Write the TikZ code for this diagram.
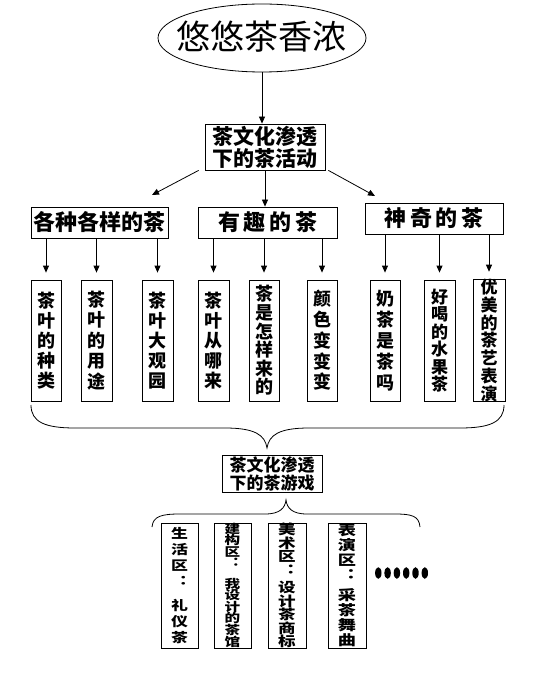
\documentclass[tikz,border=0pt]{standalone}
\usepackage{fontspec}
\newfontfamily\cjk{Noto Sans CJK SC}
\newfontfamily\cjkw{Noto Sans CJK SC}[FakeStretch=1.3]
\usetikzlibrary{shapes.geometric,arrows.meta}
\tikzset{
  box/.style={draw, line width=0.8pt, inner sep=0pt, align=center, font=\cjk\bfseries},
  arr/.style={line width=0.8pt, -{Triangle[length=7pt,width=6pt]}},
  vbox/.style={box, minimum width=31pt, minimum height=121pt, font=\cjk\bfseries\fontsize{18}{20}\selectfont},
  catbox/.style={box, minimum width=138pt, minimum height=31pt, font=\cjk\bfseries\fontsize{22}{24}\selectfont},
  gbox/.style={box, minimum width=37pt, minimum height=125pt},
  brace/.style={line width=0.8pt},
}
\begin{document}
\begin{tikzpicture}[x=1pt,y=-1pt]
\useasboundingbox[fill=white] (0,0) rectangle (542,676);
% title
\node[ellipse, draw, line width=0.8pt, minimum width=208pt, minimum height=68pt, inner sep=0pt] (title) at (262,38) {};
\node[inner sep=0pt, font=\cjk\fontsize{34}{36}\selectfont] (titletext) at (261,37) {悠悠茶香浓};
% activity box
\node[box, minimum width=120pt, minimum height=46pt, font=\cjk\bfseries\fontsize{21}{22}\selectfont] (act) at (265,147) {茶文化渗透\\下的茶活动};
\draw[arr] (title.south) -- (title.south |- act.north);
% categories
\node[catbox, minimum width=137pt] (catA) at (99.5,222.5) {各种各样的茶};
\node[catbox, minimum width=139pt] (catB) at (267.5,222.5) {有\,趣\,的\,茶};
\node[catbox] (catC) at (434,218.5) {神\,奇\,的\,茶};
\coordinate (tA) at (152,195);
\coordinate (tC) at (375,196);
\draw[arr] ([xshift=-6pt]act.south west) -- (tA);
\draw[arr] (act.south) -- (act.south |- catB.north);
\draw[arr] ([xshift=3pt]act.south east) -- (tC);
% vertical boxes
\node[vbox, minimum width=30pt] (v1) at (46,340.5) {茶\\叶\\的\\种\\类};
\node[vbox] (v2) at (96.5,340.5) {\raisebox{4pt}{\parbox{18pt}{\centering\fontsize{18}{20.5}\selectfont 茶\\叶\\的\\用\\途}}};
\node[vbox] (v3) at (157.5,340.5) {茶\\叶\\大\\观\\园};
\node[vbox] (v4) at (213.5,340.5) {茶\\叶\\从\\哪\\来};
\node[vbox, minimum width=30pt, font=\cjk\bfseries\fontsize{18}{18.6}\selectfont] (v5) at (264,340.5) {茶\\是\\怎\\样\\来\\的};
\node[vbox, minimum width=30pt, font=\cjk\bfseries\fontsize{18}{20.7}\selectfont] (v6) at (322,340.5) {颜\\色\\变\\变\\变};
\node[vbox, minimum width=30pt, font=\cjk\bfseries\fontsize{18}{21}\selectfont] (v7) at (385,340.5) {奶\\茶\\是\\茶\\吗};
\node[vbox, font=\cjk\bfseries\fontsize{17}{17.5}\selectfont] (v8) at (439.5,340.5) {好\\喝\\的\\水\\果\\茶};
\node[vbox, minimum width=32pt, font=\cjk\bfseries\fontsize{17}{17.8}\selectfont] (v9) at (489,340.5) {优\\美\\的\\茶\\艺\\表\\演};
\foreach \c/\v in {catA/v1,catA/v2,catA/v3,catB/v4,catB/v5,catB/v6,catC/v7,catC/v8,catC/v9}
  \draw[arr] (\v.north |- \c.south) -- ([yshift=7pt]\v.north);
% top brace
\draw[brace] (31,405) .. controls (31,422) and (45,428) .. (75,428) -- (225,428)
  .. controls (255,428) and (265,435) .. (267,448)
  .. controls (269,435) and (279,428) .. (309,428) -- (460,428)
  .. controls (490,428) and (504,422) .. (504,405);
% game box
\node[box, minimum width=100pt, minimum height=37pt, font=\cjk\bfseries\fontsize{17}{18}\selectfont] (game) at (272,473.5) {茶文化渗透\\下的茶游戏};
% bottom brace
\draw[brace] (152,527) .. controls (153,516) and (162,514) .. (180,514) -- (265,514)
  .. controls (280,514) and (285,508) .. (286,500)
  .. controls (287,508) and (292,514) .. (307,514) -- (395,514)
  .. controls (412,514) and (419,516) .. (420,527);
% bottom boxes
\node[gbox, font=\cjkw\bfseries\fontsize{13}{16}\selectfont] (b1) at (179.5,585.5) {生\\活\\区\\︓\\[8pt]礼\\仪\\茶};
\node[gbox, font=\cjkw\bfseries\fontsize{12}{11.5}\selectfont] (b2) at (232.5,585.5) {建\\构\\区\\︓\\[9pt]我\\设\\计\\的\\茶\\馆};
\node[gbox, minimum width=38pt, font=\cjkw\bfseries\fontsize{13.5}{13.5}\selectfont] (b3) at (287,585.5) {美\\术\\区\\︓\\[4pt]设\\计\\茶\\商\\标};
\node[gbox, minimum width=38pt, font=\cjkw\bfseries\fontsize{14}{15}\selectfont] (b4) at (347,585.5) {表\\演\\区\\︓\\[5pt]采\\茶\\舞\\曲};
% dots
\foreach \i in {0,...,5}
  \fill (378.3+9.3*\i,573) ellipse [x radius=3.2pt, y radius=5.8pt];
\end{tikzpicture}
\end{document}
